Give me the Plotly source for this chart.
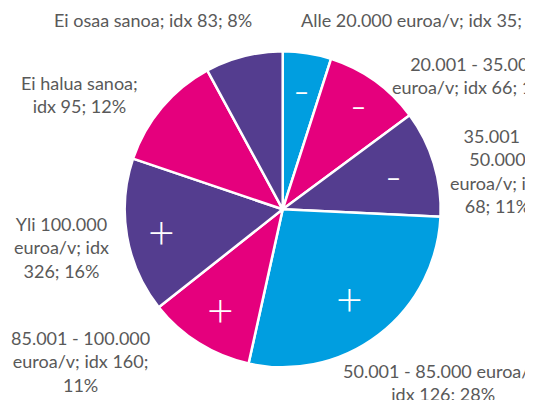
import math
import textwrap
import plotly.graph_objects as go

# ---- data ----
categories = [
    "Alle 20.000 euroa/v",
    "20.001 - 35.000 euroa/v",
    "35.001 - 50.000 euroa/v",
    "50.001 - 85.000 euroa/v",
    "85.001 - 100.000 euroa/v",
    "Yli 100.000 euroa/v",
    "Ei halua sanoa",
    "Ei osaa sanoa",
]
idx_values = [35, 66, 68, 126, 160, 326, 95, 83]
shares = [5, 10, 11, 28, 11, 16, 12, 8]
signs = ["-", "-", "-", "+", "+", "+", "", ""]

# ---- styles / layout ----
PAGE_MARGIN = 8            # default body margin of the html page
W, H = 525 - PAGE_MARGIN, 400 - PAGE_MARGIN
BLUE, MAGENTA, PURPLE = "#009EE0", "#E5007D", "#543D8F"
colors = [BLUE, MAGENTA, PURPLE, BLUE, MAGENTA, PURPLE, MAGENTA, PURPLE]
TEXT = "#595959"
LABEL_FONT = "Lato"
LABEL_SIZE = 18
LINE_H = 24

cx, cy, R = 282.7, 209.3, 158.0  # pie centre / radius in window pixels

wrap_widths = [40, 20, 12, 24, 17, 12, 15, 40]
# centre x and first-line centre y of each label (window pixels)
label_pos = [(426, 20), (474, 63), (497, 135), (443, 370),
             (80, 337), (61, 223), (79, 83), (152.5, 20)]
sign_radius = [0.77, 0.82, 0.73, 0.70, 0.74, 0.78, 0.75, 0.75]


def px_x(x):
    return (x - PAGE_MARGIN) / W


def px_y(y):
    return 1 - (y - PAGE_MARGIN) / H


fig = go.Figure(go.Pie(
    labels=categories,
    values=shares,
    sort=False,
    direction="clockwise",
    rotation=0,
    marker=dict(colors=colors, line=dict(color="white", width=2.5)),
    textinfo="none",
    hoverinfo="label+percent",
    showlegend=False,
    domain=dict(x=[px_x(cx - R), px_x(cx + R)],
                y=[px_y(cy + R), px_y(cy - R)]),
))

annotations = []
for cat, iv, sh, ww, (lx, ly) in zip(categories, idx_values, shares, wrap_widths, label_pos):
    full = f"{cat}; idx {iv}; {sh}%"
    lines = textwrap.wrap(full, ww)
    n = len(lines)
    yc = ly + (n - 1) * LINE_H / 2
    annotations.append(dict(
        x=px_x(lx), y=px_y(yc), xref="paper", yref="paper",
        text="<br>".join(lines), showarrow=False,
        xanchor="center", yanchor="middle", align="center",
        font=dict(family=LABEL_FONT, size=LABEL_SIZE, color=TEXT),
    ))

total = sum(shares)
cum = 0
for sh, sg, rf in zip(shares, signs, sign_radius):
    mid = (cum + sh / 2) / total * 2 * math.pi
    cum += sh
    if not sg:
        continue
    sx = cx + rf * R * math.sin(mid)
    sy = cy - rf * R * math.cos(mid)
    annotations.append(dict(
        x=px_x(sx), y=px_y(sy), xref="paper", yref="paper",
        text=sg, showarrow=False, xanchor="center", yanchor="middle",
        font=dict(family="Lato", size=46, color="white", weight=300),
    ))

fig.update_layout(
    width=W, height=H,
    margin=dict(l=0, r=0, t=0, b=0),
    paper_bgcolor="white", plot_bgcolor="white",
    annotations=annotations,
)

fig.write_html("out.html")
